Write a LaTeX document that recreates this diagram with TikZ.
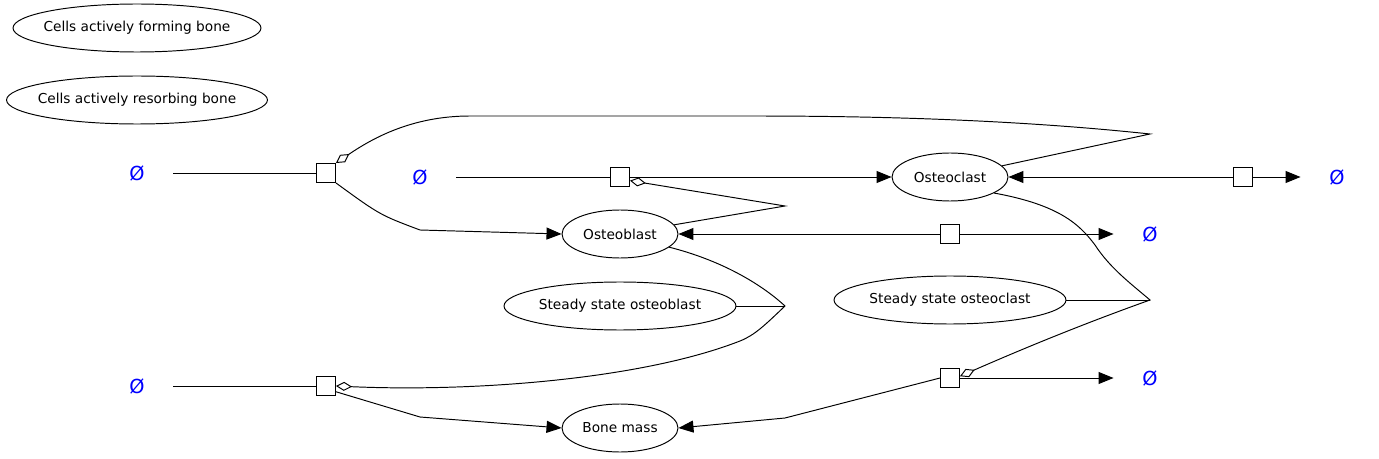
\documentclass[tikz,border=0pt]{standalone}
\usepackage{fontspec}
\setmainfont{DejaVu Sans}
\usetikzlibrary{arrows.meta}
\usetikzlibrary{shapes.geometric}

\begin{document}
\begin{tikzpicture}[x=0.02cm, y=-0.02cm, line width=0.55pt,
    species/.style={draw, ellipse, inner xsep=-0.6cm, inner ysep=0pt, minimum height=0.96cm, font=\fontsize{7.8}{9}\selectfont},
    process/.style={draw, fill=white, rectangle, inner sep=0pt, minimum size=0.38cm},
    emptyset/.style={inner sep=0pt, minimum width=1.44cm, minimum height=0.72cm, text=blue, font=\fontsize{11}{13}\selectfont},
    prod/.style={-{Triangle[length=0.3cm, width=0.24cm]}},
    modul/.style={-{Diamond[open, length=0.32cm, width=0.18cm]}}]
    \useasboundingbox (0,0) rectangle (1379,459);

    % legend
    \node[species, minimum width=4.96cm] (forming) at (137,28) {Cells actively forming bone};
    \node[species, minimum width=5.22cm] (resorbing) at (137,100) {Cells actively resorbing bone};

    % species
    \node[species, minimum width=2.32cm] (oc) at (950,177) {Osteoclast};
    \node[species, minimum width=2.32cm] (ob) at (620,234) {Osteoblast};
    \node[species, minimum width=2.32cm] (bm) at (620,428) {Bone mass};
    \node[species, minimum width=4.64cm] (sob) at (620,306) {Steady state osteoblast};
    \node[species, minimum width=4.64cm] (soc) at (950,300) {Steady state osteoclast};

    % sources and sinks
    \node[emptyset] (e1) at (137,173) {Ø};
    \node[emptyset] (e2) at (420,177) {Ø};
    \node[emptyset] (e3) at (1337,177) {Ø};
    \node[emptyset] (e4) at (1150,234) {Ø};
    \node[emptyset] (e5) at (137,386) {Ø};
    \node[emptyset] (e6) at (1150,378) {Ø};

    % processes
    \node[process] (p1) at (326,173) {};
    \node[process] (p2) at (620,177) {};
    \node[process] (p3) at (1243,177) {};
    \node[process] (p4) at (950,234) {};
    \node[process] (p5) at (326,386) {};
    \node[process] (p6) at (950,378) {};

    % junctions
    \coordinate (j1) at (1150,134);
    \coordinate (j2) at (785,206);
    \coordinate (j3) at (785,306);
    \coordinate (j4) at (1150,300);

    % consumption / production
    \draw (e1) -- (p1.west);
    \draw[prod] (p1.south east) .. controls (380,215) .. (420,230) -- (ob.west);
    \draw (e2) -- (p2.west);
    \draw[prod] (p2.east) -- (oc.west);
    \draw[prod] (p3.west) -- (oc.east);
    \draw[prod] (p3.east) -- (e3);
    \draw[prod] (p4.west) -- (ob.east);
    \draw[prod] (p4.east) -- (e4);
    \draw (e5) -- (p5.west);
    \draw[prod] (p5.-30) -- (420,417) -- (bm.west);
    \draw[prod] (p6.west) -- (785,418) -- (bm.east);
    \draw[prod] (p6.east) -- (e6);

    % modulations
    \draw[modul] (oc) -- (j1) .. controls (1000,118) and (850,116) .. (750,116)
        -- (470,116) .. controls (410,116) and (370,140) .. (p1.north east);
    \draw[modul] (ob) -- (j2) -- (p2.-20);
    \draw (sob) -- (j3);
    \draw[modul] (ob.-15) .. controls (720,260) and (760,283) .. (j3)
        .. controls (765,325) and (755,335) .. (740,341)
        .. controls (640,380) and (470,392) .. (p5.east);
    \draw (soc) -- (j4);
    \draw[modul] (oc.-20) .. controls (1060,205) and (1080,225) .. (1095,245)
        .. controls (1110,268) and (1130,283) .. (j4)
        .. controls (1080,325) and (1020,350) .. (p6.10);
\end{tikzpicture}
\end{document}
